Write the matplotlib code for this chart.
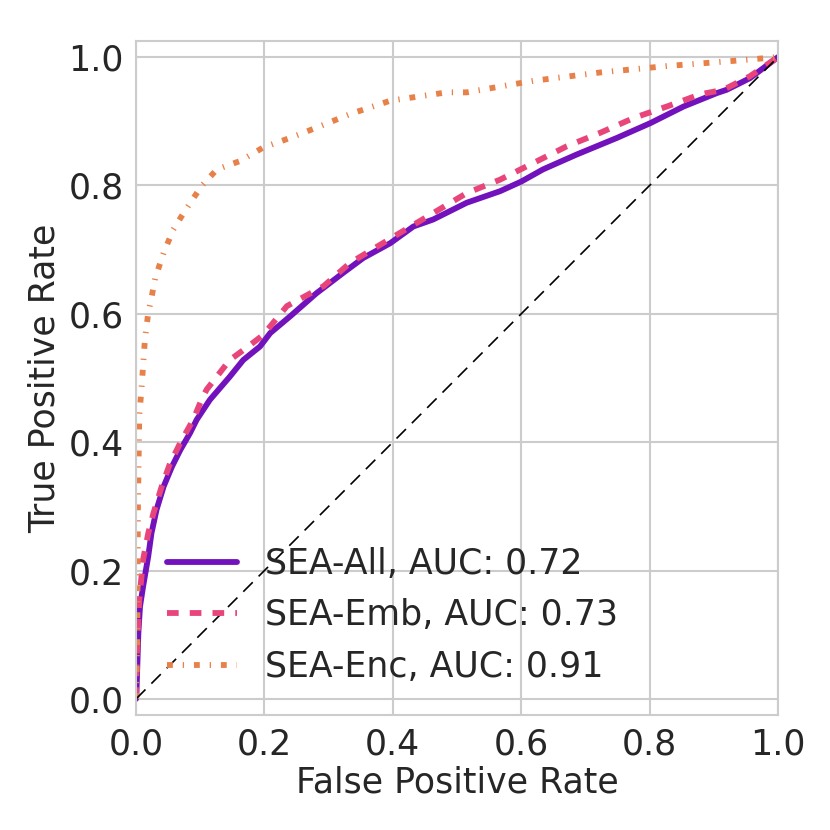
import numpy as np
import matplotlib
matplotlib.use("Agg")
import matplotlib.pyplot as plt
import seaborn as sns

# ROC points (FPR, TPR)
fpr_all = [0.0, 0.0005, 0.0036, 0.0062, 0.011, 0.019, 0.024, 0.032, 0.043, 0.056, 0.069,
           0.084, 0.0945, 0.115, 0.146, 0.167, 0.193, 0.209, 0.24, 0.281, 0.323, 0.354,
           0.396, 0.432, 0.463, 0.515, 0.567, 0.6, 0.634, 0.686, 0.749, 0.801, 0.853,
           0.905, 0.92, 0.956, 1.0]
tpr_all = [0.0, 0.004, 0.102, 0.144, 0.175, 0.222, 0.258, 0.295, 0.331, 0.362, 0.388,
           0.414, 0.435, 0.466, 0.502, 0.528, 0.549, 0.570, 0.596, 0.632, 0.664, 0.687,
           0.710, 0.736, 0.747, 0.773, 0.791, 0.806, 0.825, 0.848, 0.874, 0.897, 0.923,
           0.944, 0.949, 0.967, 1.0]

fpr_emb = [0.0, 0.001, 0.005, 0.011, 0.019, 0.027, 0.040, 0.053, 0.069, 0.089, 0.102,
           0.110, 0.146, 0.172, 0.198, 0.235, 0.292, 0.333, 0.406, 0.463, 0.515, 0.567,
           0.619, 0.671, 0.723, 0.775, 0.827, 0.879, 0.915, 0.956, 1.0]
tpr_emb = [0.0, 0.06, 0.154, 0.217, 0.258, 0.289, 0.331, 0.367, 0.399, 0.435, 0.466,
           0.482, 0.528, 0.547, 0.567, 0.612, 0.643, 0.679, 0.723, 0.757, 0.788, 0.809,
           0.835, 0.861, 0.882, 0.905, 0.923, 0.942, 0.949, 0.970, 1.0]

fpr_enc = [0.0, 0.002, 0.003, 0.005, 0.009, 0.011, 0.014, 0.019, 0.024, 0.030, 0.043,
           0.058, 0.074, 0.102, 0.126, 0.162, 0.198, 0.240, 0.281, 0.333, 0.396, 0.484,
           0.515, 0.619, 0.723, 0.827, 0.930, 1.0]
tpr_enc = [0.0, 0.10, 0.30, 0.44, 0.49, 0.52, 0.562, 0.601, 0.625, 0.656, 0.695,
           0.731, 0.757, 0.799, 0.825, 0.838, 0.859, 0.874, 0.890, 0.911, 0.932, 0.945,
           0.945, 0.963, 0.976, 0.986, 0.994, 1.0]

labels = ["SEA-All, AUC: 0.72", "SEA-Emb, AUC: 0.73", "SEA-Enc, AUC: 0.91"]
colors = ["#7212bc", "#e8467a", "#e8804a"]

sns.set_style("whitegrid")
plt.rcParams["font.family"] = ["DejaVu Sans"]
plt.rcParams["text.color"] = "#262626"
plt.rcParams["axes.labelcolor"] = "#262626"
plt.rcParams["xtick.color"] = "#262626"
plt.rcParams["ytick.color"] = "#262626"

fs = 25

fig = plt.figure(figsize=(8.3, 8.3), dpi=100)
ax = fig.add_axes([0.1639, 0.1386, 0.7735, 0.812])

lw = 4.2
ax.plot(fpr_all, tpr_all, color=colors[0], lw=lw, solid_capstyle="round", label=labels[0])
ax.plot(fpr_emb, tpr_emb, color=colors[1], lw=lw, linestyle=(0, (2.0, 1.9)), label=labels[1])
ax.plot(fpr_enc, tpr_enc, color=colors[2], lw=lw, linestyle=(0, (1.0, 1.7, 0.22, 1.7)),
        label=labels[2])
ax.plot([0, 1], [0, 1], color="black", lw=1.2, linestyle=(0, (8, 5)))

ax.set_xlim(0, 1)
ax.set_ylim(-0.025, 1.025)
ax.set_xticks([0, 0.2, 0.4, 0.6, 0.8, 1.0])
ax.set_yticks([0, 0.2, 0.4, 0.6, 0.8, 1.0])
ax.tick_params(labelsize=fs, length=0, pad=9)
ax.grid(True, color="#cccccc", lw=1.5)
for s in ax.spines.values():
    s.set_color("#cccccc")
    s.set_linewidth(1.5)

ax.set_xlabel("False Positive Rate", fontsize=fs, labelpad=3)
ax.set_ylabel("True Positive Rate", fontsize=fs, labelpad=5)

ax.legend(loc="lower left", frameon=False, fontsize=fs)

fig.savefig("out.png", dpi=100)
